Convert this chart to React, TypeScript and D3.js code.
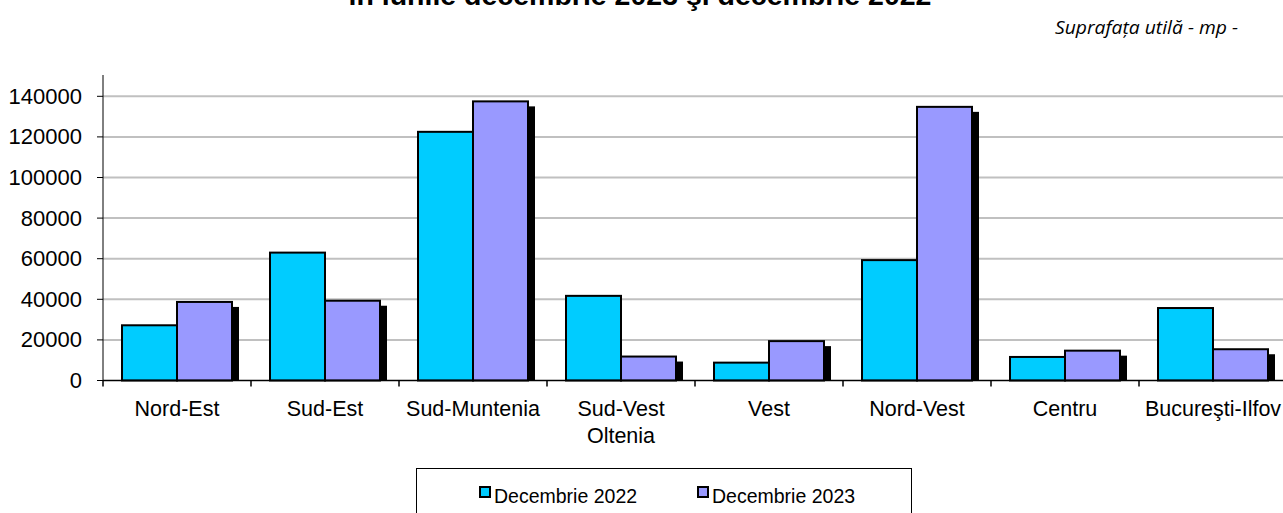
import React from "react";
import * as d3 from "d3";

const categories = ["Nord-Est", "Sud-Est", "Sud-Muntenia", "Sud-Vest\nOltenia", "Vest", "Nord-Vest", "Centru", "Bucureşti-Ilfov"];
const dec2022 = [27200, 63000, 122500, 41700, 8800, 59300, 11600, 35700];
const dec2023 = [38700, 39300, 137500, 11800, 19400, 134800, 14700, 15400];
const seriesNames = ["Decembrie 2022", "Decembrie 2023"];
const yTicks = [0, 20000, 40000, 60000, 80000, 100000, 120000, 140000];

const W = 1283, H = 513;
const left = 103, bandW = 148, y0 = 380.5, yTop = 76;

export default function App() {
  const x = d3.scaleBand<string>().domain(categories).range([left, left + bandW * categories.length]).padding(0);
  const y = d3.scaleLinear().domain([0, 150000]).range([y0, yTop]);
  const barW = 55;
  const colors = ["#00CCFF", "#9999FF"];
  const font = "Arial, 'Liberation Sans', sans-serif";
  return (
    <svg width={W} height={H} style={{ position: "absolute", left: 0, top: 0, background: "#fff" }} fontFamily={font}>
      <text x={640} y={5} textAnchor="middle" fontSize={28.5} fontWeight="bold">în lunile decembrie 2023 şi decembrie 2022</text>
      <text x={1238} y={34} textAnchor="end" fontSize={18} fontStyle="italic" fontFamily="'Open Sans', sans-serif" textLength={183} lengthAdjust="spacingAndGlyphs">Suprafața utilă - mp -</text>
      {yTicks.filter(t => t > 0).map(t => (
        <line key={t} x1={left} x2={W} y1={y(t)} y2={y(t)} stroke="#c0c0c0" strokeWidth={2} />
      ))}
      {yTicks.map(t => (
        <g key={"yt" + t}>
          <line x1={left - 6} x2={left} y1={y(t)} y2={y(t)} stroke="#000" strokeWidth={1} />
          <text x={82} y={y(t) + 7.5} textAnchor="end" fontSize={22}>{t}</text>
        </g>
      ))}
      {categories.map((c, i) => {
        const cx = (x(c) as number) + bandW / 2;
        const vals = [dec2022[i], dec2023[i]];
        return (
          <g key={c}>
            <rect x={cx + barW + 1} y={y(vals[1]) + 5} width={6} height={y0 - y(vals[1]) - 5} fill="#000" />
            {vals.map((v, k) => (
              <rect key={k} x={cx - barW + k * barW} y={y(v)} width={barW} height={y0 - y(v)} fill={colors[k]} stroke="#000" strokeWidth={2} />
            ))}
          </g>
        );
      })}
      <line x1={left} x2={left} y1={yTop - 1} y2={y0} stroke="#000" strokeWidth={1} />
      <line x1={left} x2={W} y1={y0} y2={y0} stroke="#000" strokeWidth={1.5} />
      {categories.map((c, i) => (
        <line key={"xt" + i} x1={(x(c) as number) + bandW} x2={(x(c) as number) + bandW} y1={y0} y2={y0 + 6} stroke="#000" strokeWidth={1.5} />
      ))}
      <line x1={left} x2={left} y1={y0} y2={y0 + 6} stroke="#000" strokeWidth={1.5} />
      {categories.map((c, i) => {
        const cx = (x(c) as number) + bandW / 2;
        return c.split("\n").map((ln, j) => (
          <text key={c + j} x={cx} y={416 + j * 27} textAnchor="middle" fontSize={21.5}>{ln}</text>
        ));
      })}
      <rect x={416.5} y={468.5} width={495} height={60} fill="#fff" stroke="#000" strokeWidth={1} />
      {seriesNames.map((s, k) => {
        const lx = [480, 698][k];
        return (
          <g key={s}>
            <rect x={lx} y={487} width={10} height={10} fill={colors[k]} stroke="#000" strokeWidth={2} />
            <text x={lx + 14} y={503} fontSize={19.5}>{s}</text>
          </g>
        );
      })}
    </svg>
  );
}
